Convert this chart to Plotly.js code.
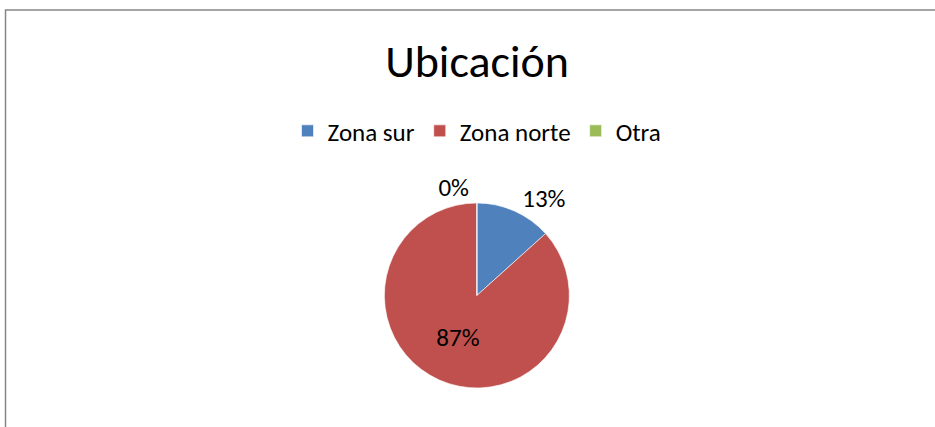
<!DOCTYPE html>
<html>
<head>
<meta charset="utf-8">
<script src="https://cdn.plot.ly/plotly-3.0.1.min.js"></script>
<style>
html,body{margin:0;padding:0;background:#fff;}
#chart{width:935px;height:427px;}
</style>
</head>
<body>
<div id="chart"></div>
<script>
const chartTitle = "Ubicación";
const categories = ["Zona sur", "Zona norte", "Otra"];
const values = [2, 13, 0];
const colors = ["#4F81BD", "#C0504D", "#9BBB59"];
const textPositions = ["outside", "inside", "outside"];

const FONT = "Carlito, Calibri, Lato, 'Open Sans', sans-serif";

const trace = {
  type: "pie",
  labels: categories,
  values: values,
  sort: false,
  direction: "clockwise",
  rotation: 0,
  marker: {colors: colors, line: {color: "#ffffff", width: 0.6}},
  textinfo: "percent",
  texttemplate: "%{percent:.0%}",
  textposition: textPositions,
  textfont: {family: FONT, size: 25, color: "#000000"},
  insidetextfont: {family: FONT, size: 25, color: "#000000"},
  outsidetextfont: {family: FONT, size: 25, color: "#000000"},
  domain: {x: [0.3, 0.72], y: [0.0914, 0.5246]},
  hoverinfo: "label+percent",
  showlegend: true
};

const layout = {
  width: 935,
  height: 427,
  margin: {l: 0, r: 0, t: 0, b: 0},
  paper_bgcolor: "#ffffff",
  font: {family: FONT, color: "#000000"},
  title: {
    text: chartTitle,
    font: {family: FONT, size: 46, color: "#000000"},
    x: 0.5102, xanchor: "center",
    y: 0.857, yanchor: "middle"
  },
  legend: {
    orientation: "h",
    x: 0.5102, xanchor: "center",
    y: 0.693, yanchor: "middle",
    font: {family: FONT, size: 25, color: "#000000"},
    itemwidth: 30,
    traceorder: "normal"
  },
  shapes: [{
    type: "path",
    xref: "paper", yref: "paper",
    path: "M 0.0059 0 L 0.0059 0.9766 L 1.01 0.9766",
    line: {color: "#868686", width: 1.5}
  }]
};

Plotly.newPlot("chart", [trace], layout, {displayModeBar: false, staticPlot: true});
</script>
</body>
</html>
